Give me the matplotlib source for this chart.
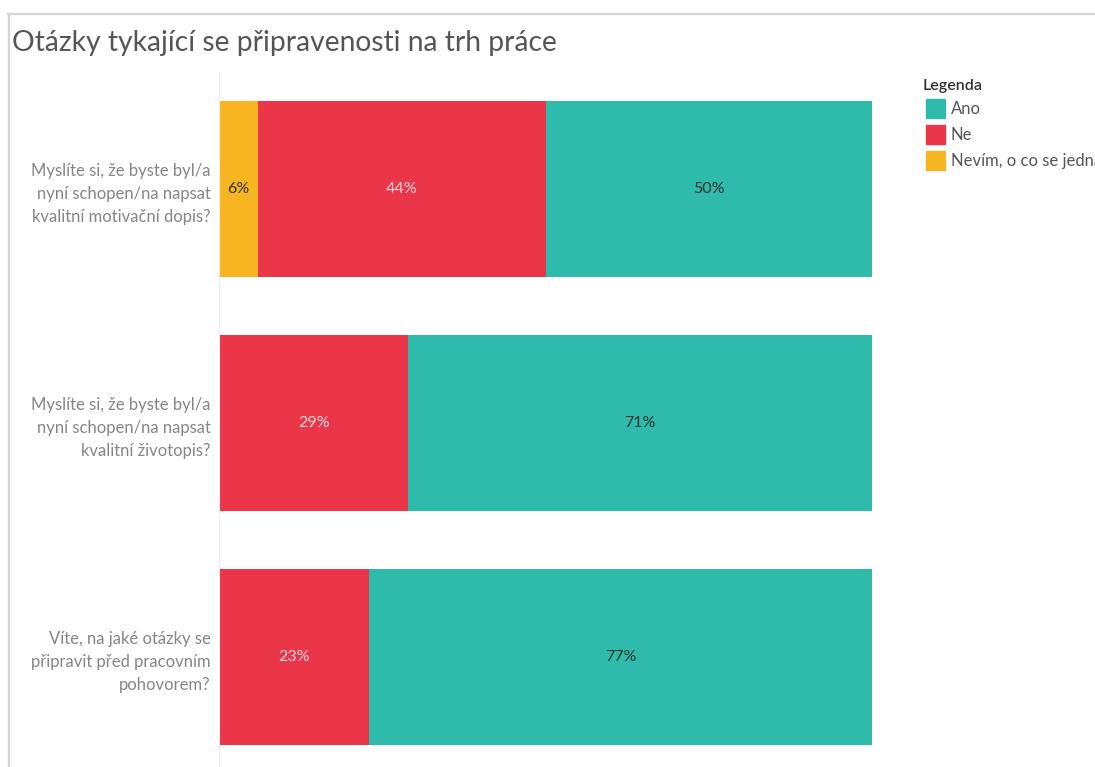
import matplotlib.pyplot as plt
from matplotlib.patches import Rectangle
from matplotlib.lines import Line2D

questions = ["Myslíte si, že byste byl/a\nnyní schopen/na napsat\nkvalitní motivační dopis?",
             "Myslíte si, že byste byl/a\nnyní schopen/na napsat\nkvalitní životopis?",
             "Víte, na jaké otázky se\npřipravit před pracovním\npohovorem?"]
nevim = [6, 0, 0]
ne = [44, 29, 23]
ano = [50, 71, 77]
legend_labels = ["Ano", "Ne", "Nevím, o co se jedná"]

c_ano = '#2ebbab'
c_ne = '#eb364a'
c_nevim = '#f8b522'

plt.rcParams['font.family'] = ['Lato', 'DejaVu Sans']

W, H = 1095, 767
fig = plt.figure(figsize=(W / 100, H / 100), dpi=100)

def px(x0, y0, x1, y1):
    # pixel box -> figure fraction
    return [x0 / W, 1 - y1 / H, (x1 - x0) / W, (y1 - y0) / H]

# outer frame (top + left)
fig.add_artist(Line2D([8 / W, 1], [1 - 14 / H, 1 - 14 / H], color='#d4d4d4', lw=1.6))
fig.add_artist(Line2D([9 / W, 9 / W], [0, 1 - 14 / H], color='#d4d4d4', lw=1.6))

fig.text(12 / W, 1 - 43 / H, "Otázky tykající se připravenosti na trh práce",
         fontsize=20.3, color='#555555', fontweight='normal', va='center', ha='left')

ax = fig.add_axes(px(219, 72, 872, 767))
y = list(range(len(questions)))
h = 176 / 234
left_ne = nevim
left_ano = [a + b for a, b in zip(nevim, ne)]
ax.barh(y, nevim, height=h, color=c_nevim)
ax.barh(y, ne, left=left_ne, height=h, color=c_ne)
ax.barh(y, ano, left=left_ano, height=h, color=c_ano)

for i in y:
    if nevim[i] > 0:
        ax.text(nevim[i] / 2, i, f"{nevim[i]}%", ha='center', va='center', fontsize=11.5, color='#333333')
    ax.text(left_ne[i] + ne[i] / 2, i, f"{ne[i]}%", ha='center', va='center', fontsize=11.5, color='#f4d6da')
    ax.text(left_ano[i] + ano[i] / 2, i, f"{ano[i]}%", ha='center', va='center', fontsize=11.5, color='#333333')

ax.set_xlim(0, 100)
ax.set_ylim(2 + (767 - 657) / 234, -0.5)
ax.set_yticks(y)
ax.set_yticklabels(questions, fontsize=12, color='#858585', ha='right', linespacing=1.55)
ax.tick_params(axis='y', length=0, pad=6)
ax.set_xticks([])
for s in ['top', 'right', 'bottom']:
    ax.spines[s].set_visible(False)
ax.spines['left'].set_color('#eeeeee')
ax.spines['left'].set_linewidth(0.8)

# legend
fig.text(923 / W, 1 - 86 / H, "Legenda", fontsize=11.5, color='#333333', fontweight='semibold', va='center')
for k, (lab, col) in enumerate(zip(legend_labels, [c_ano, c_ne, c_nevim])):
    yc = 108 + 26 * k
    fig.add_artist(Rectangle((926 / W, 1 - (yc + 9.5) / H), 19 / W, 19 / H, color=col,
                             transform=fig.transFigure))
    fig.text(951 / W, 1 - (yc + 1) / H, lab, fontsize=12, color='#555555', va='center')

fig.savefig('out.png', dpi=100)
